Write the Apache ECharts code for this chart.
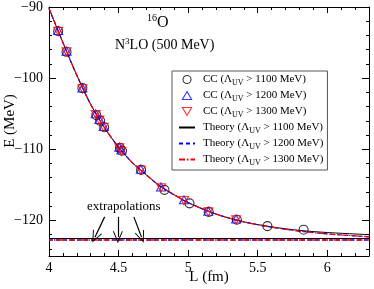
<!DOCTYPE html>
<html>
<head>
<meta charset="utf-8">
<script src="https://cdn.jsdelivr.net/npm/echarts@6/dist/echarts.min.js"></script>
<style>html,body{margin:0;padding:0;background:#fff;}#c{width:374px;height:289px;}</style>
</head>
<body>
<div id="c"></div>
<script>
// ---- data ----
const xMajor = [4, 4.5, 5, 5.5, 6];
const xMinor = [4.1,4.2,4.3,4.4,4.6,4.7,4.8,4.9,5.1,5.2,5.3,5.4,5.6,5.7,5.8,5.9,6.1,6.2,6.3];
const yMajor = [-120, -110, -100, -90];
const yMinor = [-124,-122,-118,-116,-114,-112,-108,-106,-104,-102,-98,-96,-94,-92];

const cc1100L = [4.066, 4.126, 4.24, 4.34, 4.368, 4.397, 4.51, 4.525, 4.662, 4.83, 5.01, 5.148, 5.35, 5.57, 5.83];
const cc1100E = [-93.4, -96.3, -101.4, -105.2, -106.0, -106.9, -109.8, -110.2, -112.9, -115.7, -117.6, -118.8, -119.9, -120.8, -121.3];
const cc1200L = [4.066, 4.126, 4.24, 4.336, 4.362, 4.393, 4.505, 4.52, 4.66, 4.805, 4.97, 5.145, 5.345];
const cc1200E = [-93.3, -96.2, -101.4, -105.0, -105.8, -106.8, -109.7, -110.1, -112.8, -115.3, -117.1, -118.7, -119.8];
const cc1300L = [4.066, 4.126, 4.24, 4.336, 4.362, 4.393, 4.505, 4.52, 4.66, 4.805, 4.97, 5.145, 5.345];
const cc1300E = [-93.4, -96.3, -101.5, -105.1, -105.9, -106.9, -109.8, -110.3, -112.9, -115.4, -117.2, -118.8, -119.9];

const theoryL = [4.0, 4.1, 4.2, 4.3, 4.4, 4.5, 4.6, 4.7, 4.8, 4.9, 5.0, 5.2, 5.4, 5.6, 5.8, 6.0, 6.3];
const theory1100E = [-90.2, -95.0, -99.6, -103.7, -107.0, -109.7, -111.9, -113.6, -115.2, -116.4, -117.5, -119.1, -120.2, -120.9, -121.4, -121.7, -122.0];
const theory1200E = [-90.2, -95.0, -99.6, -103.7, -107.0, -109.7, -111.9, -113.6, -115.2, -116.4, -117.5, -119.1, -120.2, -120.95, -121.5, -121.9, -122.3];
const theory1300E = [-90.2, -95.0, -99.6, -103.7, -107.0, -109.7, -111.9, -113.6, -115.2, -116.4, -117.5, -119.1, -120.2, -120.95, -121.5, -121.9, -122.3];

const extrapE = [-122.5, -122.75, -122.75];
// arrows: [startL, startE, endL, endE]
const arrows = [[4.40, -119.5, 4.33, -122.35], [4.495, -119.5, 4.495, -122.35], [4.61, -119.5, 4.665, -122.35]];

const names = ['cc1100','cc1200','cc1300','th1100','th1200','th1300'];
const legendText = {
  cc1100: 'CC (Λ{s|UV} > 1100 MeV)',
  cc1200: 'CC (Λ{s|UV} > 1200 MeV)',
  cc1300: 'CC (Λ{s|UV} > 1300 MeV)',
  th1100: 'Theory (Λ{s|UV} > 1100 MeV)',
  th1200: 'Theory (Λ{s|UV} > 1200 MeV)',
  th1300: 'Theory (Λ{s|UV} > 1300 MeV)'
};

const zip = (a, b) => a.map((v, i) => [v, b[i]]);
const FONT = 'Liberation Serif';
const fmt = v => (v < 0 ? '\u2212' : '') + Math.abs(v);

function axisPair(kind, pos, showLabel) {
  const isX = kind === 'x';
  const base = {
    type: 'value', position: pos,
    min: isX ? 4 : -125, max: isX ? 6.3 : -90,
    splitLine: {show: false},
    axisLine: {show: true, onZero: false, lineStyle: {color: '#000', width: 1}},
  };
  const major = Object.assign({}, base, {
    axisTick: {show: true, inside: true, length: isX ? 6 : 7, customValues: isX ? xMajor : yMajor, lineStyle: {color: '#000'}},
    axisLabel: showLabel ? {show: true, customValues: isX ? xMajor : yMajor, formatter: fmt,
      color: '#000', fontFamily: FONT, fontSize: 14, margin: isX ? 5 : 6} : {show: false}
  });
  const minor = Object.assign({}, base, {
    axisLine: {show: false},
    axisTick: {show: true, inside: true, length: 3, customValues: isX ? xMinor : yMinor, lineStyle: {color: '#000'}},
    axisLabel: {show: false}
  });
  return [major, minor];
}

const xAxes = [...axisPair('x', 'bottom', true), ...axisPair('x', 'top', false)];
const yAxes = [...axisPair('y', 'left', true), ...axisPair('y', 'right', false)];

const upTri = 'path://M5,0 L10,8.66 L0,8.66 Z';
const downTri = 'path://M0,0 L10,0 L5,8.66 Z';
const arrowHead = 'path://M0,10 L5,0 L10,10 L9,10 L5,2 L1,10 Z';

const series = [
  {name: 'cc1100', type: 'scatter', data: zip(cc1100L, cc1100E), symbol: 'circle', symbolSize: 9, z: 5,
   itemStyle: {color: 'rgba(0,0,0,0)', borderColor: '#000', borderWidth: 1.1}},
  {name: 'cc1200', type: 'scatter', data: zip(cc1200L, cc1200E), symbol: upTri, symbolSize: [9, 8], z: 6,
   itemStyle: {color: 'rgba(0,0,0,0)', borderColor: '#0000ff', borderWidth: 1.1}},
  {name: 'cc1300', type: 'scatter', data: zip(cc1300L, cc1300E), symbol: downTri, symbolSize: [9, 8], z: 7,
   itemStyle: {color: 'rgba(0,0,0,0)', borderColor: '#ff0000', borderWidth: 1.1}},
  {name: 'th1100', type: 'line', data: zip(theoryL, theory1100E), smooth: 0.3, symbol: 'none', z: 2,
   lineStyle: {color: '#000', width: 1, type: 'solid'}, itemStyle: {color: '#000'},
   markLine: {silent: true, symbol: 'none', label: {show: false},
     lineStyle: {color: '#000', width: 1, type: 'solid'}, data: [{yAxis: extrapE[0]}]}},
  {name: 'th1200', type: 'line', data: zip(theoryL, theory1200E), smooth: 0.3, symbol: 'none', z: 3,
   lineStyle: {color: '#0000ff', width: 1.2, type: [4, 3]}, itemStyle: {color: '#0000ff'},
   markLine: {silent: true, symbol: 'none', label: {show: false},
     lineStyle: {color: '#0000ff', width: 1.5, type: [4, 3]}, data: [{yAxis: extrapE[1]}]}},
  {name: 'th1300', type: 'line', data: zip(theoryL, theory1300E), smooth: 0.3, symbol: 'none', z: 4,
   lineStyle: {color: '#ff0000', width: 1.2, type: [6, 2, 1.5, 2]}, itemStyle: {color: '#ff0000'},
   markLine: {silent: true, symbol: 'none', label: {show: false},
     lineStyle: {color: '#ff0000', width: 1.5, type: [6, 2, 1.5, 2], dashOffset: 3}, data: [{yAxis: extrapE[2]}]}},
  {name: 'arrows', type: 'line', data: [], symbol: 'none', z: 8,
   markLine: {silent: true, symbol: ['none', arrowHead], symbolSize: [10, 12], label: {show: false},
     lineStyle: {color: '#000', width: 1.2, type: 'solid'},
     data: arrows.map(a => [{coord: [a[0], a[1]]}, {coord: [a[2], a[3]]}])}}
];

const legendData = names.map(n => n.startsWith('th')
  ? {name: n, itemStyle: {opacity: 0}}
  : {name: n});

const chart = echarts.init(document.getElementById('c'), null, {renderer: 'canvas'});
chart.setOption({
  animation: false,
  backgroundColor: '#fff',
  grid: {left: 49, right: 5, top: 6, bottom: 33, containLabel: false},
  xAxis: xAxes,
  yAxis: yAxes,
  legend: {
    data: legendData,
    orient: 'vertical',
    left: 172, top: 71,
    padding: [3, 4, 3, 6],
    itemGap: 3,
    itemWidth: 16, itemHeight: 8,
    itemStyle: {borderWidth: 1.1},
    borderColor: '#555', borderWidth: 1,
    backgroundColor: '#fff',
    selectedMode: false,
    formatter: n => legendText[n],
    textStyle: {fontFamily: FONT, fontSize: 11, color: '#000', padding: [0, 0, 0, 3],
      rich: {s: {fontFamily: FONT, fontSize: 8, color: '#000', padding: [7, 0, 0, 0]}}}
  },
  graphic: [
    {type: 'text', left: 147, top: 13, style: {
      text: '{u|16}{b|O}', fill: '#000',
      rich: {u: {fontFamily: FONT, fontSize: 10, padding: [0, 0, 9, 0]}, b: {fontFamily: FONT, fontSize: 16}}}},
    {type: 'text', left: 115, top: 37, style: {
      text: '{b|N}{u|3}{b|LO (500 MeV)}', fill: '#000',
      rich: {u: {fontFamily: FONT, fontSize: 9, padding: [0, 0, 8, 0]}, b: {fontFamily: FONT, fontSize: 14}}}},
    {type: 'text', left: 87, top: 200, style: {text: 'extrapolations', fill: '#000', font: '13px "Liberation Serif"'}},
    {type: 'text', x: 3, y: 121, rotation: Math.PI / 2, style: {text: 'E (MeV)', fill: '#000',
      font: '15px "Liberation Serif"', align: 'center', verticalAlign: 'top'}},
    {type: 'text', x: 209, y: 270, style: {text: 'L (fm)', fill: '#000',
      font: '15px "Liberation Serif"', align: 'center', verticalAlign: 'top'}}
  ],
  series: series
});
</script>
</body>
</html>
